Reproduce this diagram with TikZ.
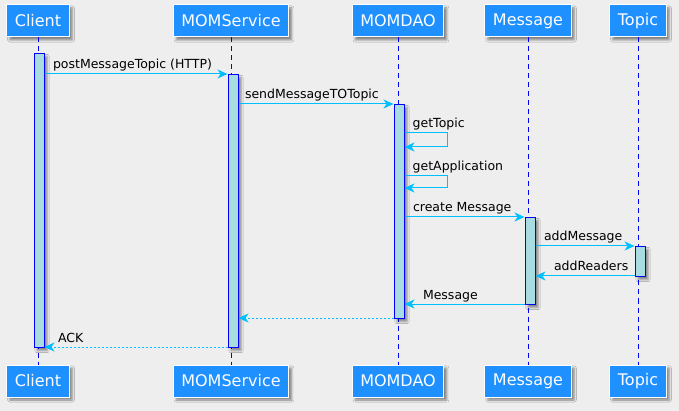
\documentclass[tikz,border=0pt]{standalone}
\usepackage{fontspec}
\setmainfont{DejaVu Sans}
\usetikzlibrary{arrows.meta,shadows.blur}
\definecolor{bgcol}{HTML}{EEEEEE}
\definecolor{headblue}{HTML}{1E90FF}
\definecolor{msgblue}{HTML}{00BFFF}
\definecolor{barcol}{HTML}{A9DCE0}

\begin{document}
\begin{tikzpicture}[x=1pt,y=-1pt,>={Stealth[length=10pt,width=9pt,inset=3pt]},
    head/.style={rectangle,fill=headblue,draw=white,line width=1pt,text=white,
        font=\fontsize{16}{19}\selectfont,inner xsep=8pt,minimum height=32pt,
        blur shadow={shadow xshift=3pt,shadow yshift=-3pt,shadow blur steps=4,shadow opacity=45}},
    life/.style={draw=blue,line width=0.8pt,dash pattern=on 5pt off 4pt},
    bar/.style={rectangle,anchor=north,fill=barcol,draw=blue,line width=1pt,
        minimum width=10pt,inner sep=0pt,
        blur shadow={shadow xshift=3pt,shadow yshift=-3pt,shadow blur steps=3,shadow opacity=45}},
    msg/.style={->,draw=msgblue,line width=1pt},
    ret/.style={msg,dash pattern=on 2pt off 2pt},
    lbl/.style={font=\fontsize{12.5}{15}\selectfont,inner sep=0pt,anchor=base west,yshift=5pt}]
        \path[use as bounding box,fill=bgcol] (0,0) rectangle (679,411);
        \path
        % heads on top
        (38,21)  node[head] (cT) {Client}
        (231,21) node[head] (sT) {MOMService}
        (398,21) node[head] (dT) {MOMDAO}
        (528,21) node[head] (mT) {Message}
        (638,21) node[head] (tT) {Topic}
        % heads below
        (38,381)  node[head] (cB) {Client}
        (231,381) node[head] (sB) {MOMService}
        (398,381) node[head] (dB) {MOMDAO}
        (528,381) node[head] (mB) {Message}
        (638,381) node[head] (tB) {Topic};

        % lifelines
        \draw[life] (cT) -- (cB);
        \draw[life] (sT) -- (sB);
        \draw[life] (dT) -- (dB);
        \draw[life] (mT) -- (mB);
        \draw[life] (tT) -- (tB);

        % activations
        \node[bar,minimum height=294pt] (aC) at (39,53) {};
        \node[bar,minimum height=273pt] (aS) at (233,74) {};
        \node[bar,minimum height=214pt] (aD) at (399,104) {};
        \node[bar,minimum height=87pt]  (aM) at (530,217) {};
        \node[bar,minimum height=30pt]  (aT) at (640,246) {};

        \draw[msg] (aC.east |- 0,74)--(aS.west |- 0,74) node[lbl,pos=0,xshift=8pt]{postMessageTopic (HTTP)};
        \draw[msg] (aS.east |- 0,104)--(aD.west |- 0,104) node[lbl,pos=0,xshift=6pt]{sendMessageTOTopic};

        \draw[msg] (aD.east |- 0,133)--++(43,0)--++(0,14)--(aD.east |- 0,147);
        \path (aD.east |- 0,133) node[lbl,xshift=8pt]{getTopic};
        \draw[msg] (aD.east |- 0,176)--++(43,0)--++(0,12)--(aD.east |- 0,188);
        \path (aD.east |- 0,176) node[lbl,xshift=8pt]{getApplication};

        \draw[msg] (aD.east |- 0,217)--(aM.west |- 0,217) node[lbl,pos=0,xshift=8pt]{create Message};
        \draw[msg] (aM.east |- 0,246)--(aT.west |- 0,246) node[lbl,pos=0,xshift=8pt]{addMessage};
        \draw[msg] (aT.west |- 0,276)--(aM.east |- 0,276) node[lbl,pos=1,xshift=18pt]{addReaders};
        \draw[msg] (aM.west |- 0,304)--(aD.east |- 0,304) node[lbl,pos=1,xshift=18pt]{Message};

        \draw[ret] (aD.west |- 0,318)--(aS.east |- 0,318);
        \draw[ret] (aS.west |- 0,347)--(aC.east |- 0,347) node[lbl,pos=1,xshift=13pt]{ACK};
\end{tikzpicture}
\end{document}
